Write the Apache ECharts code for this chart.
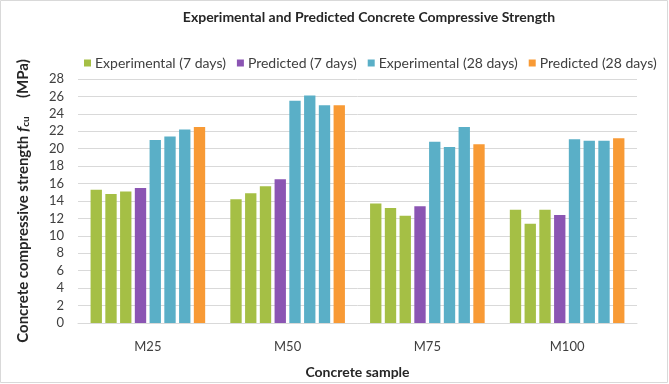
<!DOCTYPE html>
<html>
<head>
<meta charset="utf-8">
<script src="https://cdn.jsdelivr.net/npm/echarts@6/dist/echarts.min.js"></script>
<style>
  html, body { margin: 0; padding: 0; background: #fff; }
  #chart { width: 669px; height: 384px; }
</style>
</head>
<body>
<div id="chart"></div>
<script>
// concrete samples on the x axis
const samples = ["M25", "M50", "M75", "M100"];

// three experimental specimens at 7 days, one row per specimen
const exp7a = [15.3, 14.2, 13.7, 13.0];
const exp7b = [14.8, 14.9, 13.2, 11.4];
const exp7c = [15.1, 15.7, 12.3, 13.0];
const pred7 = [15.5, 16.5, 13.4, 12.4];

// same at 28 days
const exp28a = [21.0, 25.5, 20.8, 21.1];
const exp28b = [21.4, 26.1, 20.2, 20.9];
const exp28c = [22.2, 25.0, 22.5, 20.9];
const pred28 = [22.5, 25.0, 20.5, 21.2];

const yTicks = { min: 0, max: 28, interval: 2 };

const names = ["Experimental (7 days)", "Predicted (7 days)", "Experimental (28 days)", "Predicted (28 days)"];
const colors = ["#a5bf45", "#8b55b3", "#5aafc7", "#f89a35"];

const font = "Lato";

function bar(name, color, data) {
  return {
    name: name,
    type: "bar",
    data: data,
    barGap: "30%",
    barCategoryGap: "18%",
    itemStyle: { color: color },
    emphasis: { disabled: true }
  };
}

const option = {
  animation: false,
  textStyle: { fontFamily: font },
  title: {
    text: "Experimental and Predicted Concrete Compressive Strength",
    left: 364,
    textAlign: "center",
    top: 5,
    textStyle: { fontSize: 14, fontWeight: "bold", color: "#262626", fontFamily: font }
  },
  legend: {
    data: names,
    top: 51,
    left: 79,
    width: 600,
    itemWidth: 7,
    itemHeight: 7,
    itemGap: 11,
    icon: "rect",
    textStyle: { fontSize: 14, color: "#404040", fontFamily: font, padding: [0, 0, 0, -1] }
  },
  grid: { left: 78, right: 32, top: 79, bottom: 58 },
  xAxis: {
    type: "category",
    data: samples,
    axisLine: { lineStyle: { color: "#d9d9d9" } },
    axisTick: { show: false },
    axisLabel: { fontSize: 13, color: "#404040", margin: 17 },
    name: "Concrete sample",
    nameLocation: "middle",
    nameGap: 42,
    nameTextStyle: { fontSize: 14, fontWeight: "bold", color: "#262626" }
  },
  yAxis: {
    type: "value",
    min: yTicks.min,
    max: yTicks.max,
    interval: yTicks.interval,
    axisLine: { show: false },
    axisTick: { show: false },
    splitLine: { lineStyle: { color: "#d9d9d9" } },
    axisLabel: { fontSize: 13, color: "#404040", margin: 14 },
    name: "{b|Concrete compressive strength }{i|f}{s|cu}{b|     (MPa)}",
    nameLocation: "middle",
    nameGap: 47,
    nameRotate: 90,
    nameTextStyle: {
      rich: {
        b: { fontSize: 15, fontWeight: "bold", color: "#262626", fontFamily: font },
        i: { fontSize: 16, fontWeight: "bold", fontStyle: "italic", color: "#262626", fontFamily: font },
        s: { fontSize: 10, fontWeight: "bold", color: "#262626", fontFamily: font, verticalAlign: "bottom", padding: [6, 0, 0, 0] }
      }
    }
  },
  graphic: [{
    type: "rect",
    shape: { x: 0.5, y: 0.5, width: 667, height: 382 },
    style: { fill: "none", stroke: "#d9d9d9", lineWidth: 1 },
    silent: true
  }],
  series: [
    bar(names[0], colors[0], exp7a),
    bar(names[0], colors[0], exp7b),
    bar(names[0], colors[0], exp7c),
    bar(names[1], colors[1], pred7),
    bar(names[2], colors[2], exp28a),
    bar(names[2], colors[2], exp28b),
    bar(names[2], colors[2], exp28c),
    bar(names[3], colors[3], pred28)
  ]
};

const chart = echarts.init(document.getElementById("chart"));
chart.setOption(option);
</script>
</body>
</html>
